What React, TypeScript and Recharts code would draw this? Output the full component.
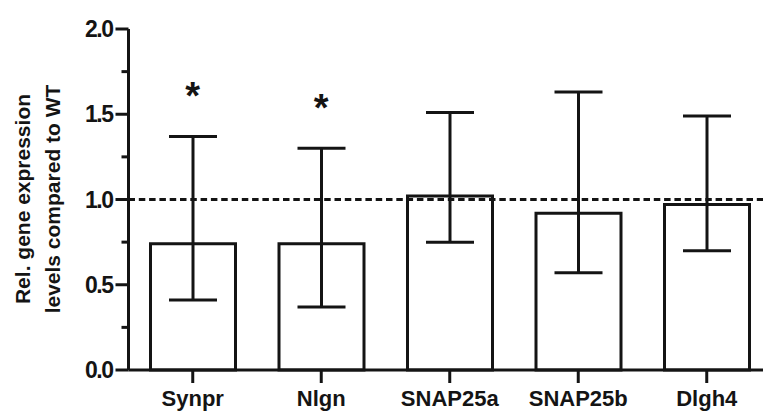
import { Bar, ComposedChart, ErrorBar, LabelList, Line, ReferenceLine, XAxis, YAxis } from "recharts";

const genes = ["Synpr", "Nlgn", "SNAP25a", "SNAP25b", "Dlgh4"];
const means = [0.74, 0.74, 1.02, 0.92, 0.97];
const lower = [0.41, 0.37, 0.75, 0.57, 0.7];
const upper = [1.37, 1.3, 1.51, 1.63, 1.49];
const significant = [true, true, false, false, false];
const yTicks = [0, 0.25, 0.5, 0.75, 1, 1.25, 1.5, 1.75, 2];
const yLabels = ["Rel. gene expression", "levels compared to WT"];

const INK = "#141414";
const FONT = '"Liberation Sans", Arial, sans-serif';
const Y_AXIS_W = 128.5;
const PLOT_BOTTOM = 370;

const data = genes.map((gene, i) => ({
  gene,
  mean: means[i],
  err: [means[i] - lower[i], upper[i] - means[i]],
  star: significant[i] ? upper[i] : null,
}));

const YTick = ({ y, payload }: any) => {
  const major = Math.round(payload.value * 100) % 50 === 0;
  return (
    <g>
      <line x1={Y_AXIS_W - (major ? 13 : 7)} x2={Y_AXIS_W} y1={y} y2={y} stroke={INK} strokeWidth={3} />
      {major && (
        <text
          x={Y_AXIS_W - 16}
          y={y}
          dy={8}
          textAnchor="end"
          fontFamily={FONT}
          fontWeight="bold"
          fontSize={23}
          letterSpacing={-1.5}
          fill={INK}
        >
          {payload.value.toFixed(1)}
        </text>
      )}
    </g>
  );
};

const XTick = ({ x, payload }: any) => (
  <g>
    <line x1={x} x2={x} y1={PLOT_BOTTOM} y2={PLOT_BOTTOM + 13} stroke={INK} strokeWidth={3} />
    <text x={x} y={406} textAnchor="middle" fontFamily={FONT} fontWeight="bold" fontSize={22} fill={INK}>
      {payload.value}
    </text>
  </g>
);

const YLabel = () => (
  <g fontFamily={FONT} fontWeight="bold" fontSize={21} fill={INK}>
    {yLabels.map((line, i) => (
      <text key={line} transform={`translate(${30 + i * 30},199) rotate(-90)`} textAnchor="middle">
        {line}
      </text>
    ))}
  </g>
);

const Star = ({ x, y, value }: any) =>
  value == null ? null : (
    <text x={x} y={y - 48 + 21} textAnchor="middle" fontFamily={FONT} fontWeight="bold" fontSize={38} fill={INK}>
      *
    </text>
  );

export default function App() {
  return (
    <div style={{ position: "absolute", left: 0, top: 0, width: 763, height: 412, overflow: "hidden", background: "#fff" }}>
      <ComposedChart width={780} height={412} data={data} margin={{ top: 29, right: 9, bottom: 0, left: 0 }}>
        <XAxis
          dataKey="gene"
          height={42}
          tick={<XTick />}
          tickLine={false}
          axisLine={{ stroke: INK, strokeWidth: 3 }}
          interval={0}
        />
        <YAxis
          width={Y_AXIS_W}
          domain={[0, 2]}
          ticks={yTicks}
          interval={0}
          tick={<YTick />}
          tickLine={false}
          axisLine={{ stroke: INK, strokeWidth: 3 }}
          label={<YLabel />}
        />
        <Bar dataKey="mean" barSize={85} fill="#fff" stroke={INK} strokeWidth={3} isAnimationActive={false}>
          <ErrorBar dataKey="err" width={24} stroke={INK} strokeWidth={3} direction="y" />
        </Bar>
        <ReferenceLine y={1} stroke={INK} strokeWidth={3} strokeDasharray="6.5 3.8" />
        <Line dataKey="star" stroke="none" dot={false} activeDot={false} isAnimationActive={false}>
          <LabelList dataKey="star" content={<Star />} />
        </Line>
      </ComposedChart>
    </div>
  );
}
